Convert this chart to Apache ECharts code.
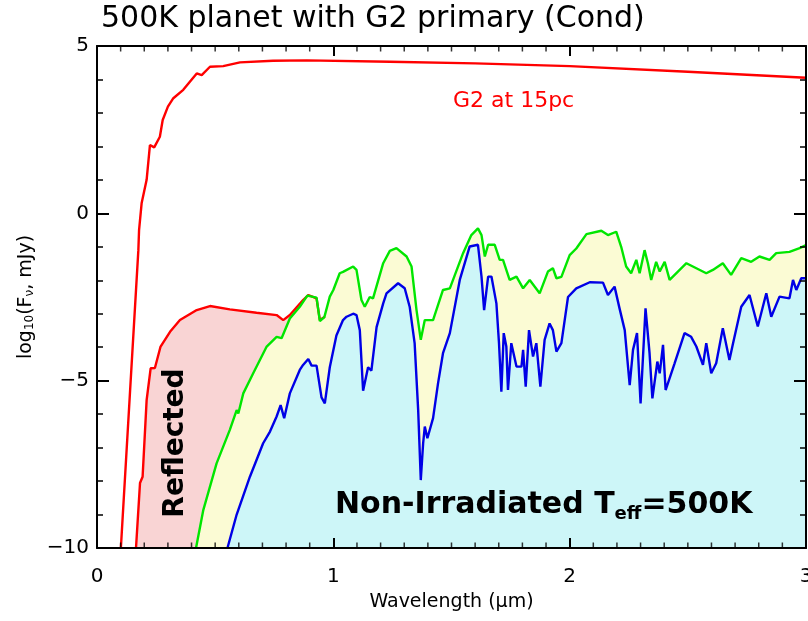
<!DOCTYPE html>
<html><head><meta charset="utf-8">
<script src="https://cdn.jsdelivr.net/npm/echarts@6/dist/echarts.min.js"></script>
<style>html,body{margin:0;padding:0;background:#fff}#c{width:808px;height:621px}</style>
</head><body><div id="c"></div>
<script>
// G2 star at 15pc
const starX=[0.101,0.14,0.175,0.178,0.189,0.21,0.224,0.242,0.266,0.278,0.30,0.323,0.365,0.393,0.422,0.443,0.478,0.534,0.605,0.745,0.887,1.239,1.6,2.0,2.5,3.0];
const starY=[-10,-5.3,-1.1,-0.5,0.31,1.0,2.04,1.97,2.29,2.79,3.19,3.44,3.69,3.93,4.18,4.13,4.38,4.40,4.51,4.56,4.57,4.53,4.48,4.40,4.23,4.05];
// Reflected (irradiated planet incl. reflected light)
const reflX=[0.165,0.182,0.193,0.21,0.227,0.245,0.269,0.309,0.351,0.422,0.478,0.562,0.675,0.76,0.788,0.816,0.872,0.894,0.929,0.943,0.964];
const reflY=[-10,-8.06,-7.87,-5.58,-4.63,-4.62,-3.98,-3.54,-3.19,-2.89,-2.77,-2.87,-2.97,-3.04,-3.19,-3.04,-2.59,-2.44,-2.54,-3.19,-3.09];
// Irradiated thermal (green)
const greenX=[0.419,0.45,0.506,0.562,0.591,0.598,0.619,0.661,0.718,0.76,0.781,0.816,0.858,0.89,0.929,0.943,0.962,0.985,1.0,1.027,1.041,1.084,1.098,1.119,1.133,1.154,1.168,1.211,1.239,1.267,1.31,1.331,1.352,1.37,1.387,1.422,1.464,1.493,1.549,1.584,1.612,1.627,1.641,1.655,1.683,1.704,1.718,1.746,1.775,1.803,1.831,1.873,1.908,1.929,1.944,1.965,2.0,2.028,2.071,2.134,2.162,2.197,2.218,2.239,2.26,2.282,2.296,2.317,2.331,2.345,2.366,2.381,2.402,2.423,2.458,2.494,2.536,2.578,2.606,2.648,2.683,2.726,2.768,2.803,2.846,2.874,2.93,2.973,3.0];
const greenY=[-10,-8.86,-7.47,-6.47,-5.88,-5.98,-5.38,-4.78,-3.98,-3.69,-3.73,-3.14,-2.79,-2.46,-2.52,-3.22,-3.1,-2.49,-2.29,-1.79,-1.75,-1.59,-1.69,-2.59,-2.79,-2.5,-2.54,-1.49,-1.12,-1.04,-1.29,-1.59,-2.89,-3.78,-3.19,-3.19,-2.29,-2.24,-1.19,-0.65,-0.45,-0.65,-1.29,-0.94,-0.94,-1.39,-1.39,-1.99,-1.89,-2.24,-1.99,-2.39,-1.74,-1.64,-1.94,-1.9,-1.25,-1.05,-0.62,-0.52,-0.65,-0.55,-1.0,-1.59,-1.79,-1.39,-1.79,-1.1,-1.49,-1.99,-1.45,-1.74,-1.45,-1.99,-1.74,-1.49,-1.64,-1.79,-1.69,-1.49,-1.84,-1.34,-1.45,-1.29,-1.39,-1.19,-1.15,-1.04,-0.95];
// Non-irradiated Teff=500K (blue)
const blueX=[0.552,0.591,0.647,0.703,0.732,0.76,0.777,0.792,0.816,0.858,0.872,0.894,0.908,0.929,0.95,0.964,0.985,1.013,1.041,1.056,1.084,1.098,1.112,1.126,1.147,1.161,1.183,1.211,1.225,1.274,1.302,1.323,1.344,1.359,1.37,1.38,1.387,1.398,1.422,1.443,1.464,1.493,1.535,1.577,1.612,1.627,1.638,1.655,1.669,1.69,1.701,1.711,1.721,1.732,1.739,1.753,1.775,1.796,1.803,1.814,1.828,1.845,1.859,1.876,1.894,1.915,1.929,1.944,1.965,1.993,2.028,2.085,2.141,2.162,2.19,2.211,2.233,2.254,2.268,2.285,2.3,2.321,2.338,2.35,2.371,2.381,2.395,2.406,2.444,2.486,2.514,2.536,2.564,2.578,2.599,2.62,2.648,2.676,2.69,2.726,2.761,2.796,2.832,2.853,2.888,2.93,2.945,2.959,2.98,3.0];
const blueY=[-10,-9.0,-7.87,-6.87,-6.52,-6.07,-5.73,-6.12,-5.38,-4.68,-4.53,-4.35,-4.55,-4.55,-5.5,-5.68,-4.6,-3.65,-3.19,-3.09,-3.0,-3.04,-3.49,-5.3,-4.6,-4.7,-3.4,-2.69,-2.39,-2.09,-2.24,-2.79,-3.88,-5.88,-7.97,-6.87,-6.37,-6.72,-6.12,-5.08,-4.18,-3.58,-1.99,-0.99,-0.94,-1.89,-2.89,-1.89,-1.89,-2.69,-3.88,-5.33,-3.58,-3.98,-5.28,-3.88,-4.58,-4.58,-4.08,-5.18,-3.49,-4.28,-3.88,-5.18,-3.78,-3.29,-3.49,-4.13,-3.88,-2.5,-2.24,-2.06,-2.07,-2.44,-2.19,-2.84,-3.49,-5.13,-4.08,-3.58,-5.68,-2.84,-4.18,-5.53,-4.43,-4.78,-3.93,-5.28,-4.48,-3.58,-3.69,-3.98,-4.53,-3.88,-4.78,-4.48,-3.43,-4.38,-3.93,-2.79,-2.44,-3.38,-2.39,-3.09,-2.49,-2.54,-1.99,-2.29,-1.94,-1.94];
const xTicks=[0,1,2,3];
const yTicks=[-10,-5,0,5];
// minor tick positions on the wavelength axes (0.1 µm)
const xMinorTicks=[0.1,0.2,0.3,0.4,0.5,0.6,0.7,0.8,0.9,1.1,1.2,1.3,1.4,1.5,1.6,1.7,1.8,1.9,2.1,2.2,2.3,2.4,2.5,2.6,2.7,2.8,2.9];

const zip=(xs,ys)=>xs.map((x,i)=>[x,ys[i]]);
const FONT='DejaVu Sans';
const chart=echarts.init(document.getElementById('c'));
function areaSeries(d,color){return {type:'line',data:d,showSymbol:false,silent:true,lineStyle:{width:0},areaStyle:{color:color,opacity:1,origin:'start'},z:1};}
function lineSeries(d,color){return {type:'line',data:d,showSymbol:false,silent:true,lineStyle:{width:2.4,color:color},z:3};}
function tickSeries(yv,off){return {type:'scatter',silent:true,clip:false,z:12,symbol:'rect',symbolSize:[1.5,5],symbolOffset:[0,off],
  itemStyle:{color:'#000'},data:xMinorTicks.map(v=>[v,yv])};}
function xAx(pos,labels){
  const a={type:'value',min:xTicks[0],max:xTicks[xTicks.length-1],interval:1,position:pos,z:10,
    axisLine:{show:true,onZero:false,lineStyle:{color:'#000',width:2}},
    axisTick:{show:true,inside:true,length:10,lineStyle:{color:'#000',width:2}},
    splitLine:{show:false},
    axisLabel:labels?{show:true,margin:19,fontFamily:FONT,fontSize:20,color:'#000',showMaxLabel:true}:{show:false}};
  if(labels){a.name='Wavelength (μm)';a.nameLocation='middle';a.nameGap=45;a.nameTextStyle={fontFamily:FONT,fontSize:19,color:'#000'};}
  return a;
}
function yAx(pos,labels){
  const a={type:'value',min:yTicks[0],max:yTicks[yTicks.length-1],interval:5,position:pos,z:10,
    axisLine:{show:true,onZero:false,lineStyle:{color:'#000',width:2}},
    axisTick:{show:true,inside:true,length:12,lineStyle:{color:'#000',width:2}},
    minorTick:{show:true,splitNumber:5,length:6,lineStyle:{color:'#000',width:1.5}},
    splitLine:{show:false},minorSplitLine:{show:false},
    axisLabel:labels?{show:true,margin:8,fontFamily:FONT,fontSize:20,color:'#000',formatter:v=>String(v).replace('-','\u2212')}:{show:false}};
  if(labels){a.name='log{s|10}(F{s|ν}, mJy)';a.nameLocation='middle';a.nameGap=60;
    a.nameTextStyle={fontFamily:FONT,fontSize:19,color:'#000',rich:{s:{fontFamily:FONT,fontSize:12,color:'#000',verticalAlign:'bottom',lineHeight:12}}};}
  return a;
}
chart.setOption({
  animation:false,
  backgroundColor:'#fff',
  title:{text:'500K planet with G2 primary (Cond)',left:96,top:-1,textStyle:{fontFamily:FONT,fontSize:30,fontWeight:'normal',color:'#000'}},
  grid:{left:97,right:2,top:46,bottom:73,outerBounds:{left:-100,right:-100,top:-100,bottom:-100}},
  xAxis:[xAx('bottom',true),xAx('top',false)],
  yAxis:[yAx('left',true),yAx('right',false)],
  series:[
    areaSeries(zip(reflX,reflY),'#f9d4d4'),
    areaSeries(zip(greenX,greenY),'#fbfbd4'),
    areaSeries(zip(blueX,blueY),'#cdf6f8'),
    lineSeries(zip(starX,starY),'#ff0000'),
    lineSeries(zip(reflX,reflY),'#ff0000'),
    lineSeries(zip(greenX,greenY),'#00e600'),
    lineSeries(zip(blueX,blueY),'#0000e6'),
    tickSeries(yTicks[0],-3),
    tickSeries(yTicks[yTicks.length-1],3)
  ],
  graphic:[
    {type:'text',x:453,y:101,z:20,style:{text:'G2 at 15pc',fill:'#ff0000',font:'normal 22px "DejaVu Sans"',align:'left',verticalAlign:'middle'}},
    {type:'text',x:176,y:443,rotation:Math.PI/2,z:20,style:{text:'Reflected',fill:'#000',font:'bold 28px "DejaVu Sans"',align:'center',verticalAlign:'middle'}},
    {type:'text',x:335,y:487,z:20,style:{
      text:'{a|Non-Irradiated T}{s|eff}{a|=500K}',
      rich:{a:{fontFamily:FONT,fontSize:30,fontWeight:'bold',fill:'#000',color:'#000',lineHeight:36},
            s:{fontFamily:FONT,fontSize:18,fontWeight:'bold',fill:'#000',color:'#000',lineHeight:18,verticalAlign:'bottom'}}}}
  ]
});
</script></body></html>
